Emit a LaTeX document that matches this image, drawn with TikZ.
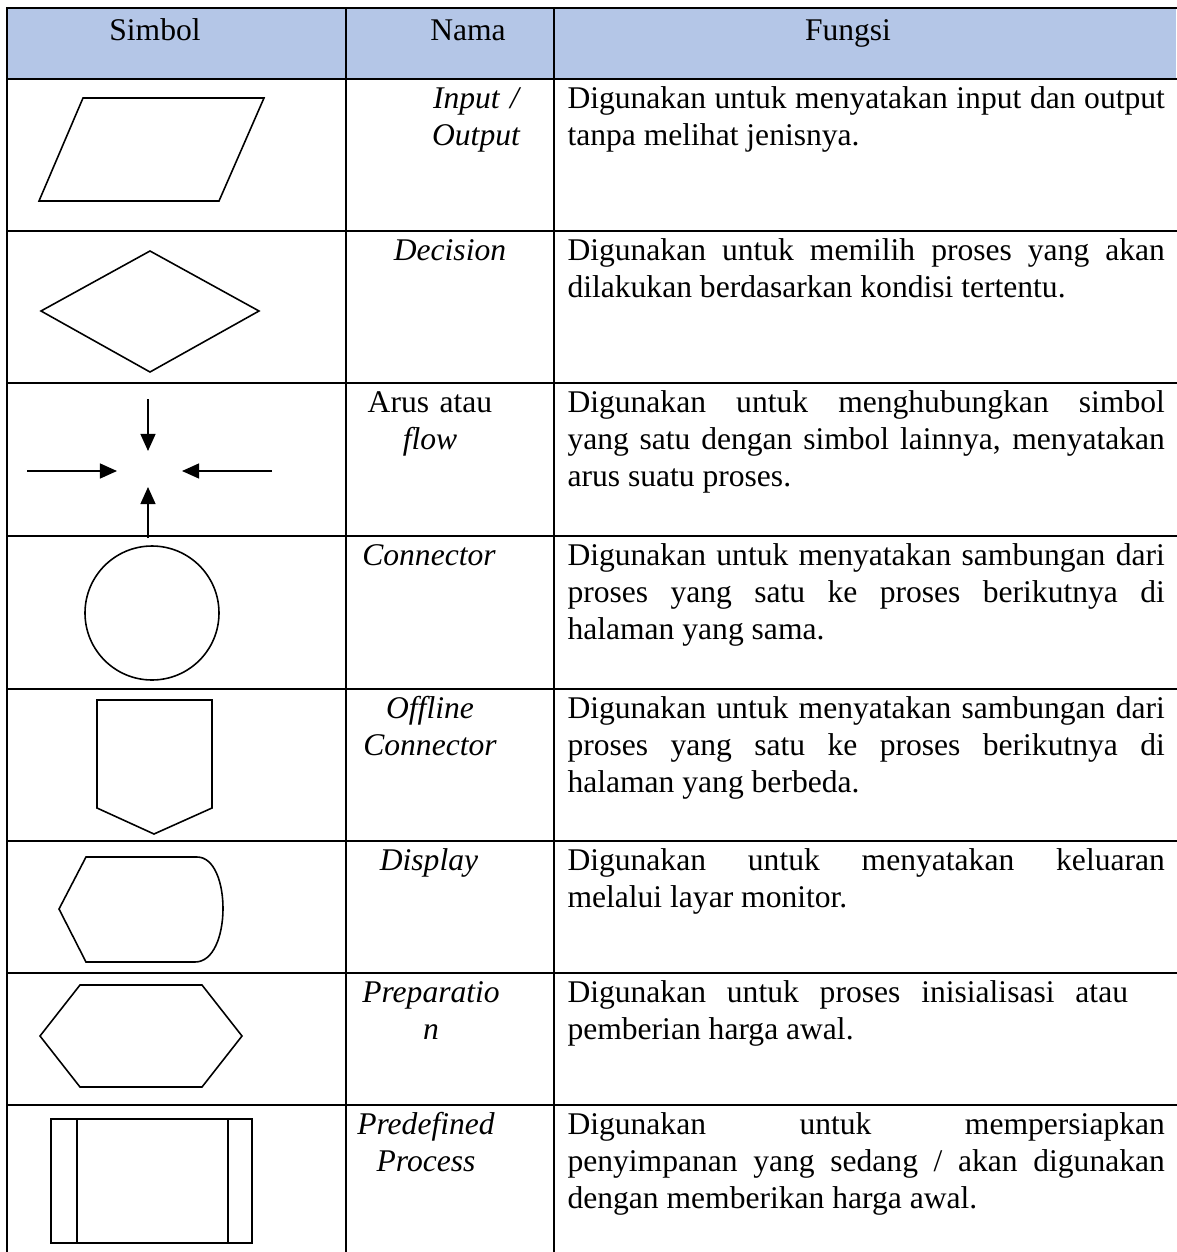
\documentclass[tikz,border=0pt]{standalone}
\usepackage{fontspec}
\setmainfont{Liberation Serif}
\usetikzlibrary{arrows.meta}
\definecolor{headblue}{HTML}{B4C6E7}
\hyphenpenalty=10000
\exhyphenpenalty=10000
\tolerance=9999
\tikzset{
  tabline/.style={line width=0.8pt, line cap=rect},
  sym/.style={line width=0.6pt, line join=miter},
  arus/.style={line width=0.6pt, -{Triangle[length=6.5pt,width=5.7pt]}},
  headtxt/.style={anchor=base, inner sep=0pt, font=\fontsize{12}{14.06}\selectfont},
  nama/.style={anchor=base, text width=70pt, align=center, inner sep=0pt, font=\fontsize{12}{14.06}\selectfont\itshape},
  fungsi/.style={anchor=base west, text width=227pt, align=justify, inner sep=0pt, font=\fontsize{12}{14.06}\selectfont}
}
\begin{document}
\begin{tikzpicture}[x=0.38pt, y=-0.38pt]
  \useasboundingbox (0,0) rectangle (1176,1252);

  % header
  \fill[headblue] (7,8) rectangle (1176,79);
  \node[headtxt] (hsim) at (155,40) {Simbol};
  \node[headtxt] (hnam) at (468,40) {Nama};
  \node[headtxt] (hfun) at (848,40) {Fungsi};

  % table lines
  \foreach \y in {8,79,231,383,536,689,841,973,1105}
    \draw[tabline] (7,\y) -- (1176,\y);
  \foreach \x in {7,346,554}
    \draw[tabline] (\x,8) -- (\x,1252);

  % symbols
  \draw[sym] (83,98) -- (264,98) -- (219,201) -- (39,201) -- cycle;
  \draw[sym] (41,311) -- (150,251) -- (259,311) -- (150,372) -- cycle;

  \coordinate (atop) at (148,399);
  \coordinate (atopend) at (148,451);
  \coordinate (aleft) at (27,471);
  \coordinate (aleftend) at (117,471);
  \coordinate (aright) at (272,471);
  \coordinate (arightend) at (182,471);
  \coordinate (abot) at (148,538);
  \coordinate (abotend) at (148,487);
  \draw[arus] (atop) -- (atopend);
  \draw[arus] (aleft) -- (aleftend);
  \draw[arus] (aright) -- (arightend);
  \draw[arus] (abot) -- (abotend);

  \draw[sym] (152,613) circle (67);
  \draw[sym] (97,700) -- (212,700) -- (212,808) -- (154,834) -- (97,808) -- cycle;
  \draw[sym] (86,857) -- (197,857) .. controls (232,857) and (232,962) .. (195,962)
             -- (86,962) -- (59,909) -- cycle;
  \draw[sym] (80,985) -- (202,985) -- (242,1036) -- (202,1087) -- (80,1087) -- (40,1036) -- cycle;
  \draw[sym] (51,1119) rectangle (252,1243);
  \draw[sym] (77,1119) -- (77,1243) (228,1119) -- (228,1243);

  % nama
  \node[nama] (n1) at (476,108) {Input /\\Output};
  \node[nama] (n2) at (450,260) {Decision};
  \node[nama] (n3) at (430,412) {\upshape Arus atau\\\itshape flow};
  \node[nama] (n4) at (429,565) {Connector};
  \node[nama] (n5) at (430,718) {Offline\\Connector};
  \node[nama] (n6) at (429,870) {Display};
  \node[nama] (n7) at (431,1002) {Preparatio\\n};
  \node[nama] (n8) at (426,1134) {Predefined\\Process};

  % fungsi
  \node[fungsi] (f1) at (567,108) {Digunakan untuk menyatakan input dan output\linebreak tanpa melihat jenisnya.};
  \node[fungsi] (f2) at (567,260) {Digunakan untuk memilih proses yang akan\linebreak dilakukan berdasarkan kondisi tertentu.};
  \node[fungsi] (f3) at (567,412) {Digunakan untuk menghubungkan simbol\linebreak yang satu dengan simbol lainnya, menyatakan\linebreak arus suatu proses.};
  \node[fungsi] (f4) at (567,565) {Digunakan untuk menyatakan sambungan dari\linebreak proses yang satu ke proses berikutnya di\linebreak halaman yang sama.};
  \node[fungsi] (f5) at (567,718) {Digunakan untuk menyatakan sambungan dari\linebreak proses yang satu ke proses berikutnya di\linebreak halaman yang berbeda.};
  \node[fungsi] (f6) at (567,870) {Digunakan untuk menyatakan keluaran\linebreak melalui layar monitor.};
  \node[fungsi] (f7) at (567,1002) {\makebox[213pt][s]{Digunakan untuk proses inisialisasi atau}\\pemberian harga awal.};
  \node[fungsi] (f8) at (567,1134) {Digunakan untuk mempersiapkan\linebreak penyimpanan yang sedang / akan digunakan\linebreak dengan memberikan harga awal.};
\end{tikzpicture}
\end{document}
